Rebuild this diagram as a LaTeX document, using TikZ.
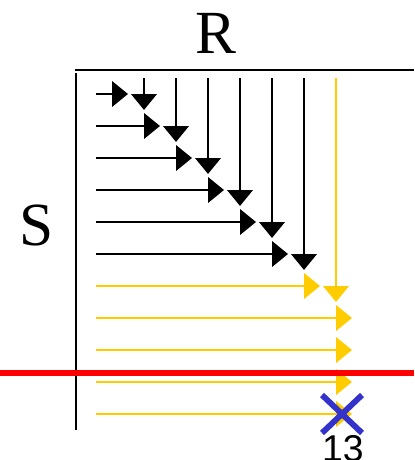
\documentclass[tikz,border=0pt]{standalone}
\usepackage{fontspec}
\setmainfont{Liberation Serif}
\newfontfamily\numfont{Liberation Sans}
\usetikzlibrary{arrows.meta}
\definecolor{gold}{RGB}{255,204,0}
\definecolor{crossblue}{RGB}{51,51,204}
\tikzset{
  axis/.style  = {line width=2pt},
  ar/.style    = {-{Triangle[length=12pt, width=19pt]}, line width=2.2pt},
  blk/.style   = {ar, black},
  yel/.style   = {ar, gold},
  lbl/.style   = {inner sep=0pt, font=\fontsize{46}{50}\selectfont},
}

\begin{document}
\begin{tikzpicture}[x=0.75pt, y=-0.75pt]
  \useasboundingbox (0,0) rectangle (414,460);
  % axes and labels
  \coordinate (topL) at (75,70);
  \coordinate (topR) at (414,70);
  \coordinate (sideT) at (76,73);
  \coordinate (sideB) at (76,430);
  \draw[axis] (topL) -- (topR);
  \draw[axis] (sideT) -- (sideB);
  \node[lbl] (rlab) at (216,33) {R};
  \node[lbl] (slab) at (37,225) {S};
  % rows
  \foreach \i/\e/\st in {1/128/blk, 2/160/blk, 3/192/blk, 4/224/blk, 5/256/blk,
                         6/288/blk, 7/320/yel, 8/352/yel, 9/352/yel,
                         10/352/yel, 11/352/yel}{
    \coordinate (row\i s) at (96,{94+32*(\i-1)});
    \coordinate (row\i e) at (\e,{94+32*(\i-1)});
    \draw[\st] (row\i s) -- (row\i e);
  }
  % columns
  \foreach \j/\st in {1/blk, 2/blk, 3/blk, 4/blk, 5/blk, 6/blk, 7/yel}{
    \coordinate (col\j s) at ({144+32*(\j-1)},78);
    \coordinate (col\j e) at ({144+32*(\j-1)},{110+32*(\j-1)});
    \draw[\st] (col\j s) -- (col\j e);
  }
  % cut line
  \coordinate (cutL) at (0,373);
  \coordinate (cutR) at (414,373);
  \draw[red, line width=3.8pt] (cutL) -- (cutR);
  % cross
  \coordinate (xa) at (322,395);
  \coordinate (xb) at (362,433);
  \coordinate (xc) at (362,395);
  \coordinate (xd) at (322,433);
  \draw[crossblue, line width=4.4pt] (xa) -- (xb) (xc) -- (xd);
  \node[anchor=north, inner sep=0pt, font=\numfont\fontsize{28}{30}\selectfont]
    (num) at (343,435) {13};
\end{tikzpicture}
\end{document}
